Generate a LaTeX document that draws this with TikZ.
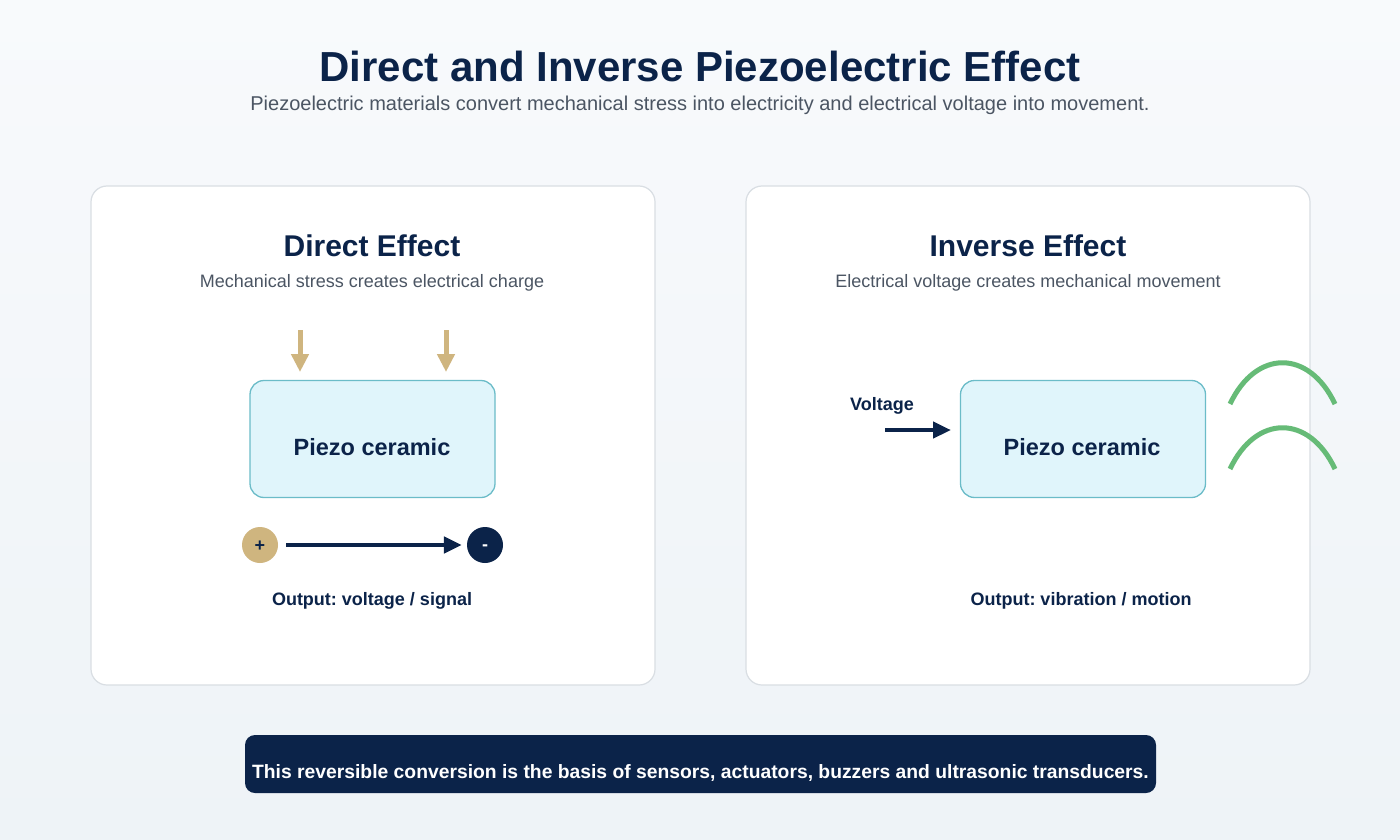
\documentclass[tikz,border=0pt]{standalone}
\usepackage{fontspec}
\setmainfont{Liberation Sans}
\usetikzlibrary{arrows.meta}
\frenchspacing
\definecolor{navy}{HTML}{0B2349}
\definecolor{subgray}{HTML}{4B5563}
\definecolor{cardline}{HTML}{D9DEE3}
\definecolor{piezofill}{HTML}{E0F5FB}
\definecolor{piezoline}{HTML}{6BBCC8}
\definecolor{tan}{HTML}{CFB57F}
\definecolor{wave}{HTML}{66BB77}
\definecolor{bgtop}{HTML}{F8FAFC}
\definecolor{bgbot}{HTML}{EEF3F7}
\tikzset{
  card/.style={draw=cardline, line width=1.2pt, fill=white, rounded corners=16pt},
  piezo/.style={draw=piezoline, line width=1.3pt, fill=piezofill, rounded corners=14pt, minimum width=245pt, minimum height=117pt},
  piezotext/.style={font=\fontsize{23.5}{27}\selectfont\bfseries, text=navy},
  cardtitle/.style={font=\fontsize{30}{34}\selectfont\bfseries, text=navy},
  cardsub/.style={font=\fontsize{18}{21}\selectfont, text=subgray},
  outlabel/.style={font=\fontsize{18}{21}\selectfont\bfseries, text=navy},
  pressarrow/.style={draw=tan, line width=5pt, -{Triangle[width=17pt,length=18pt]}},
  navyarrow/.style={draw=navy, line width=4.5pt, -{Triangle[width=16pt,length=18pt]}},
  wavestyle/.style={draw=wave, line width=5pt},
  pole/.style={circle, minimum size=36pt, inner sep=0pt, font=\fontsize{18}{21}\selectfont\bfseries},
}
\begin{document}
\begin{tikzpicture}[x=1pt,y=-1pt]
\useasboundingbox (0,0) rectangle (1400,840);
\shade[top color=bgtop, bottom color=bgbot] (0,0) rectangle (1400,840);
\node[font=\fontsize{42}{48}\selectfont\bfseries, text=navy] (title) at (700,66) {Direct and Inverse Piezoelectric Effect};
\node[font=\fontsize{20}{24}\selectfont, text=subgray] (subtitle) at (700,105) {Piezoelectric materials convert mechanical stress into electricity and electrical voltage into movement.};
% cards
\draw[card] (91,186) rectangle (655,685);
\draw[card] (746,186) rectangle (1310,685);
% left card
\node[cardtitle] (lt) at (372,246) {Direct Effect};
\node[cardsub] (ls) at (372,283) {Mechanical stress creates electrical charge};
\node[piezo] (lp) at (372.5,439) {};
\node[piezotext] (lptext) at (372,447) {Piezo ceramic};
\coordinate (a1s) at (300,330);
\coordinate (a1e) at (300,372);
\coordinate (a2s) at (446,330);
\coordinate (a2e) at (446,372);
\draw[pressarrow] (a1s) -- (a1e);
\draw[pressarrow] (a2s) -- (a2e);
\node[pole, fill=tan, text=navy] (plus) at (260,545) {\smash{\raisebox{-6pt}{+}}};
\node[pole, fill=navy, text=white] (minus) at (485,545) {\smash{\raisebox{-5.5pt}{-}}};
\draw[navyarrow] ([xshift=8pt]plus.east) -- ([xshift=-5pt]minus.west);
\node[outlabel] (lo) at (372,601) {Output: voltage / signal};
% right card
\node[cardtitle] (rt) at (1028,246) {Inverse Effect};
\node[cardsub] (rs) at (1028,283) {Electrical voltage creates mechanical movement};
\node[piezo] (rp) at (1083,439) {};
\node[piezotext] (rptext) at (1082,447) {Piezo ceramic};
\node[outlabel] (volt) at (882,406) {Voltage};
\coordinate (vs) at (885,430);
\coordinate (ve) at (951,430);
\draw[navyarrow] (vs) -- (ve);
\node[outlabel] (ro) at (1081,601) {Output: vibration / motion};
% waves
\coordinate (w1a) at (1230,404);
\coordinate (w1c1) at (1256,349);
\coordinate (w1c2) at (1309,349);
\coordinate (w1b) at (1335,404);
\coordinate (w2a) at (1230,469);
\coordinate (w2c1) at (1256,414);
\coordinate (w2c2) at (1309,414);
\coordinate (w2b) at (1335,469);
\draw[wavestyle] (w1a) .. controls (w1c1) and (w1c2) .. (w1b);
\draw[wavestyle] (w2a) .. controls (w2c1) and (w2c2) .. (w2b);
% banner
\node[fill=navy, rounded corners=10pt, minimum width=911pt, minimum height=58pt] (banner) at (700.5,764) {};
\node[font=\fontsize{19.3}{22}\selectfont\bfseries, text=white] (bt) at (700.5,773) {This reversible conversion is the basis of sensors, actuators, buzzers and ultrasonic transducers.};
\end{tikzpicture}
\end{document}
